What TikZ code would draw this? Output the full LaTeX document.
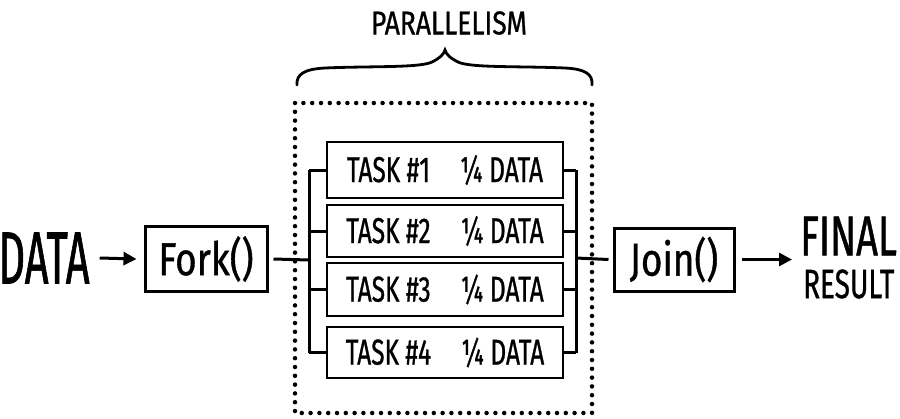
\documentclass[tikz,border=0pt]{standalone}
\usepackage{fontspec}
\setmainfont{Fira Sans}
\newfontfamily\hand[FakeStretch=0.68,FakeBold=0.8]{Fira Sans}
\newfontfamily\handn[FakeStretch=0.56,FakeBold=0.8]{Fira Sans}
\newfontfamily\handw[FakeStretch=0.8,FakeBold=0.8]{Fira Sans}
\usetikzlibrary{arrows.meta}
\tikzset{
  wire/.style={line width=3pt},
  arr/.style={wire, -{Triangle[length=13pt,width=13pt]}},
  box/.style={draw, line width=3pt, inner sep=0pt, font=\handw\fontsize{46}{48}\selectfont},
  task/.style={draw, line width=2.8pt, inner sep=0pt, minimum width=236pt, font=\hand\fontsize{36}{38}\selectfont},
  lbl/.style={inner sep=0pt},
  dots/.style={line width=4.5pt, dash pattern=on 0pt off 8.8pt, line cap=round},
}
\begin{document}
\begin{tikzpicture}[x=1pt,y=-1pt]
\useasboundingbox (0,0) rectangle (900,418);
% dotted parallel region
\draw[dots] (295,103) rectangle (592,413);
% brace
\draw[line width=2.8pt, line cap=round]
  (297,85) .. controls (296,74) and (305,69) .. (325,68)
  .. controls (370,66) and (420,68) .. (432,62)
  .. controls (440,58) and (444,54) .. (445,50)
  .. controls (446,54) and (450,58) .. (458,62)
  .. controls (470,68) and (520,66) .. (565,68)
  .. controls (585,69) and (593,74) .. (592,85);
\node[lbl, font=\handw\fontsize{33}{35}\selectfont] (par) at (449,23) {PARALLELISM};
% texts
\node[lbl, font=\handn\fontsize{74}{76}\selectfont] (data) at (44,258) {DATA};
\node[lbl, anchor=west, font=\hand\fontsize{56}{58}\selectfont] (final) at (800,236) {FINAL};
\node[lbl, anchor=west, font=\hand\fontsize{41}{43}\selectfont] (result) at (803,284) {RESULT};
% boxes
\node[box, minimum width=122pt, minimum height=65pt] (fork) at (206,259) {Fork()};
\node[box, minimum width=120pt, minimum height=63pt] (join) at (674,259.5) {Join()};
\node[task, minimum height=56pt] (t1) at (445,170) {TASK \#1\hspace{30pt}¼ DATA};
\node[task, minimum height=52pt] (t2) at (445,231) {TASK \#2\hspace{30pt}¼ DATA};
\node[task, minimum height=53pt] (t3) at (445,289.5) {TASK \#3\hspace{30pt}¼ DATA};
\node[task, minimum height=51pt] (t4) at (445,352.5) {TASK \#4\hspace{30pt}¼ DATA};
% bus coordinates
\coordinate (lb) at (309,260);
\coordinate (rb) at (576,258);
% connectors
\draw[arr] ([xshift=10pt]data.east) -- ([xshift=-7pt]fork.west);
\draw[wire] ([xshift=5pt]fork.east) -- (lb);
\draw[wire] (t1.west -| lb) -- (t4.west -| lb);
\draw[wire] (t1.east -| rb) -- (t4.east -| rb);
\foreach \t in {t1,t2,t3,t4}{
  \draw[wire] (\t.west -| lb) -- (\t.west);
  \draw[wire] (\t.east) -- (\t.east -| rb);
}
\draw[wire] (rb) -- ([xshift=-4pt]join.west);
\draw[arr] ([xshift=6pt]join.east) -- ([xshift=-8pt]final.west |- join.east);
\end{tikzpicture}
\end{document}
